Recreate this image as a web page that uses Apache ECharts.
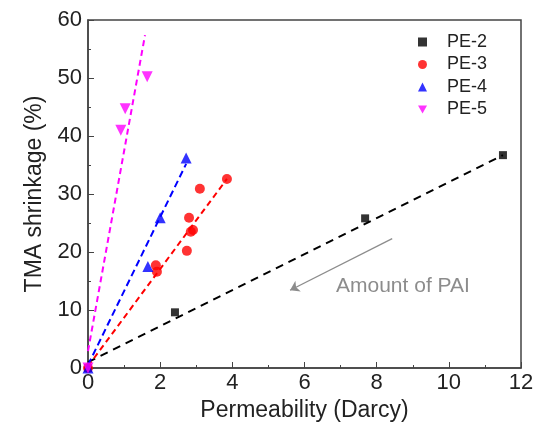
<!DOCTYPE html>
<html><head><meta charset="utf-8">
<script src="https://cdn.jsdelivr.net/npm/echarts@6/dist/echarts.min.js"></script>
<style>html,body{margin:0;padding:0;background:#fff}#c{width:543px;height:436px}</style>
</head><body><div id="c"></div>
<script>
// Data
const seriesNames = ['PE-2', 'PE-3', 'PE-4', 'PE-5'];
const pe2 = [[0, 0], [2.41, 9.6], [7.68, 25.8], [11.5, 36.7]];
const pe3 = [[0, 0], [1.88, 17.7], [1.91, 16.6], [2.74, 20.2], [2.85, 23.5], [2.91, 23.8], [2.80, 25.9], [3.10, 30.9], [3.85, 32.6]];
const pe4 = [[0, 0], [1.66, 17.5], [2.00, 25.9], [2.72, 36.2]];
const pe5 = [[0, 0], [0.91, 41.0], [1.03, 44.7], [1.64, 50.2]];
// fitted trend lines (start, end)
const fit2 = [[0, 1.0], [11.5, 36.7]];
const fit3 = [[0, 0.3], [3.85, 32.6]];
const fit4 = [[0, 0.5], [2.72, 35.2]];
const fit5 = [[0, 2.9], [1.58, 57.4]];
// annotation arrow (data coords)
const arrowFrom = [8.43, 22.3];
const arrowTo = [5.6, 13.4];
const annotationText = 'Amount of PAI';
const xTicks = {min: 0, max: 12, interval: 2};
const yTicks = {min: 0, max: 60, interval: 10};

const colors = ['#000000', '#ff0000', '#0000ff', '#ff00ff'];
const symbols = ['rect', 'circle', 'triangle', 'triangle'];
const legendIcons = ['rect', 'circle', 'triangle', 'path://M0,0 L10,0 L5,9 Z'];
const sizes = [8, 10, 11, 11];
const fonts = '"Liberation Sans", Arial, sans-serif';

const chart = echarts.init(document.getElementById('c'));
const scatterData = [pe2, pe3, pe4, pe5];
const fits = [fit2, fit3, fit4, fit5];
const dashes = [[8, 6], [6, 4], [7, 4], [6, 4]];
const series = [];
fits.forEach((f, i) => {
  series.push({
    type: 'line', name: 'fit' + i, data: f, showSymbol: false, symbol: 'none',
    lineStyle: {color: colors[i], width: 2, type: dashes[i]}, silent: true, z: 2
  });
});
scatterData.forEach((d, i) => {
  series.push({
    type: 'scatter', name: seriesNames[i], data: d, symbol: symbols[i],
    symbolSize: sizes[i], symbolRotate: i === 3 ? 180 : 0,
    itemStyle: {color: colors[i]}, z: 3
  });
});
// arrow annotation
series.push({
  type: 'line', data: [], silent: true,
  markLine: {
    silent: true, symbol: ['none', 'arrow'], symbolSize: 9,
    label: {show: false},
    lineStyle: {color: '#8c8c8c', width: 1.3, type: 'solid'},
    data: [[{coord: arrowFrom}, {coord: arrowTo}]]
  }
});

chart.setOption({
  animation: false,
  backgroundColor: '#fff',
  grid: {left: 88, right: 22, top: 20, bottom: 68, show: true, borderColor: '#444', borderWidth: 1.5},
  legend: {
    data: seriesNames.map((n, i) => ({name: n, icon: legendIcons[i]})),
    orient: 'vertical', left: 413, top: 28, itemGap: 4.5, itemWidth: 9, itemHeight: 9,
    textStyle: {fontFamily: fonts, fontSize: 18, lineHeight: 18, color: '#222', padding: [0, 0, 0, 15]}
  },
  xAxis: {
    type: 'value', min: xTicks.min, max: xTicks.max, interval: xTicks.interval,
    name: 'Permeability (Darcy)', nameLocation: 'middle', nameGap: 30,
    nameTextStyle: {fontFamily: fonts, fontSize: 23, color: '#222'},
    axisLine: {show: true, lineStyle: {color: '#444', width: 1.5}},
    axisTick: {show: true, inside: true, length: 6, lineStyle: {color: '#444'}},
    minorTick: {show: true, splitNumber: 2, length: 3, lineStyle: {color: '#444'}},
    splitLine: {show: false},
    axisLabel: {fontFamily: fonts, fontSize: 22, color: '#222', margin: 4}
  },
  yAxis: {
    type: 'value', min: yTicks.min, max: yTicks.max, interval: yTicks.interval,
    name: 'TMA shrinkage (%)', nameLocation: 'middle', nameGap: 36,
    nameTextStyle: {fontFamily: fonts, fontSize: 23, color: '#222'},
    axisLine: {show: true, lineStyle: {color: '#444', width: 1.5}},
    axisTick: {show: true, inside: true, length: 6, lineStyle: {color: '#444'}},
    minorTick: {show: true, splitNumber: 2, length: 3, lineStyle: {color: '#444'}},
    splitLine: {show: false},
    axisLabel: {fontFamily: fonts, fontSize: 22, color: '#222', margin: 6}
  },
  graphic: [{
    type: 'text', left: 336, top: 276,
    style: {text: annotationText, fontFamily: fonts, fontSize: 21, fill: '#8c8c8c'}
  }],
  series: series
});
</script></body></html>
